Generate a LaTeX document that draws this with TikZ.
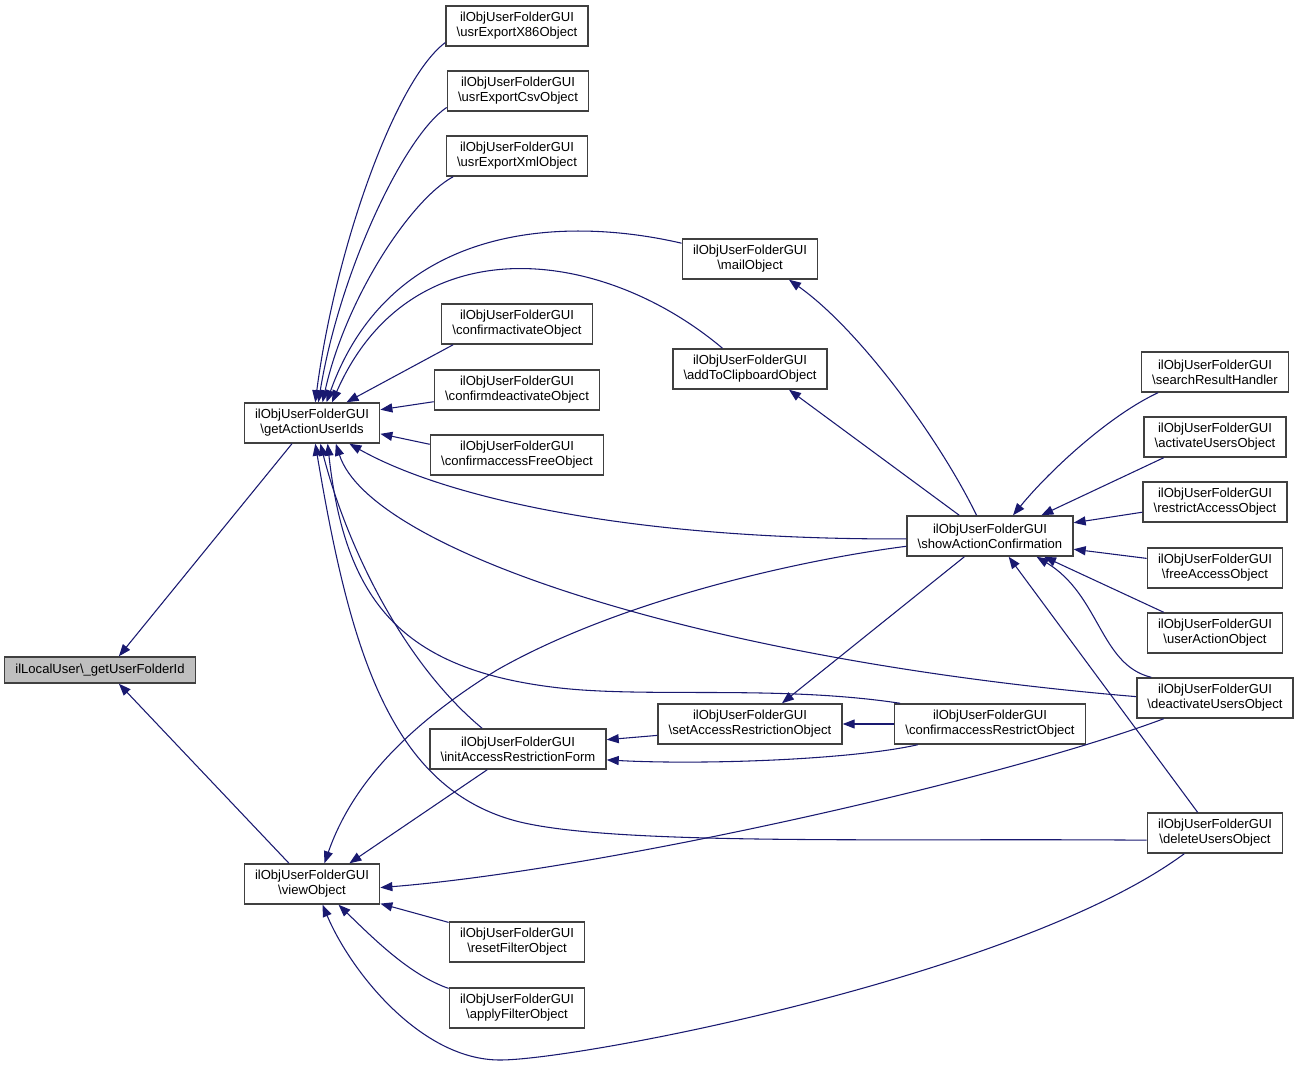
\documentclass[tikz,border=0pt]{standalone}
\usepackage{fontspec}
\setmainfont{Liberation Sans}
\usepackage{tikz}
\usetikzlibrary{arrows.meta}
\definecolor{edgeblue}{HTML}{191970}
\definecolor{boxgray}{HTML}{404040}
\definecolor{rootgray}{HTML}{BFBFBF}

\begin{document}
\begin{tikzpicture}[x=0.75pt,y=-0.75pt,
  fnbox/.style={draw=boxgray,line width=1.1pt,fill=white,align=center,inner xsep=8pt,inner ysep=2pt,minimum height=30pt,font=\fontsize{9.8}{11.25}\selectfont},
  rootbox/.style={fnbox,fill=rootgray,minimum height=19.5pt},
  calledge/.style={draw=edgeblue,line width=0.8pt,{Triangle[length=9pt,width=6.8pt]}-}]
\useasboundingbox (0,0) rectangle (1300,1067);
\node[rootbox] (root) at (100,670) {ilLocalUser\textbackslash\_getUserFolderId};
\node[fnbox] (getids) at (312,423) {ilObjUserFolderGUI\\\textbackslash getActionUserIds};
\node[fnbox] (view) at (312,884) {ilObjUserFolderGUI\\\textbackslash viewObject};
\node[fnbox] (x86) at (517,26) {ilObjUserFolderGUI\\\textbackslash usrExportX86Object};
\node[fnbox] (csv) at (518,91) {ilObjUserFolderGUI\\\textbackslash usrExportCsvObject};
\node[fnbox] (xml) at (517,156) {ilObjUserFolderGUI\\\textbackslash usrExportXmlObject};
\node[fnbox] (mail) at (750,259) {ilObjUserFolderGUI\\\textbackslash mailObject};
\node[fnbox] (clip) at (750,369) {ilObjUserFolderGUI\\\textbackslash addToClipboardObject};
\node[fnbox] (cact) at (517,324) {ilObjUserFolderGUI\\\textbackslash confirmactivateObject};
\node[fnbox] (cdeact) at (517,390) {ilObjUserFolderGUI\\\textbackslash confirmdeactivateObject};
\node[fnbox] (cfree) at (517,455) {ilObjUserFolderGUI\\\textbackslash confirmaccessFreeObject};
\node[fnbox] (show) at (990,536) {ilObjUserFolderGUI\\\textbackslash showActionConfirmation};
\node[fnbox] (setacc) at (750,724) {ilObjUserFolderGUI\\\textbackslash setAccessRestrictionObject};
\node[fnbox] (crestr) at (990,724) {ilObjUserFolderGUI\\\textbackslash confirmaccessRestrictObject};
\node[fnbox] (initacc) at (518,749) {ilObjUserFolderGUI\\\textbackslash initAccessRestrictionForm};
\node[fnbox] (search) at (1215,372) {ilObjUserFolderGUI\\\textbackslash searchResultHandler};
\node[fnbox] (activ) at (1215,437) {ilObjUserFolderGUI\\\textbackslash activateUsersObject};
\node[fnbox] (restr) at (1215,502) {ilObjUserFolderGUI\\\textbackslash restrictAccessObject};
\node[fnbox] (free) at (1215,568) {ilObjUserFolderGUI\\\textbackslash freeAccessObject};
\node[fnbox] (uact) at (1215,633) {ilObjUserFolderGUI\\\textbackslash userActionObject};
\node[fnbox] (deact) at (1215,698) {ilObjUserFolderGUI\\\textbackslash deactivateUsersObject};
\node[fnbox] (delete) at (1215,833) {ilObjUserFolderGUI\\\textbackslash deleteUsersObject};
\node[fnbox] (reset) at (517,942) {ilObjUserFolderGUI\\\textbackslash resetFilterObject};
\node[fnbox] (apply) at (517,1008) {ilObjUserFolderGUI\\\textbackslash applyFilterObject};
\draw[calledge] (root.36) -- (getids.-134);
\draw[calledge] (root.-36) -- (view.138);
\draw[calledge] (getids.81) .. controls (335,250) and (395,80) .. (x86.-167);
\draw[calledge] (getids.73) .. controls (340,270) and (405,135) .. (csv.-167);
\draw[calledge] (getids.63) .. controls (345,300) and (410,200) .. (xml.-162);
\draw[calledge] (getids.55) .. controls (390,225) and (560,215) .. (mail.167);
\draw[calledge] (getids.46) .. controls (410,225) and (600,245) .. (clip.143);
\draw[calledge] (getids.31) -- (cact.-162);
\draw[calledge] (getids.11) -- (cdeact.-172);
\draw[calledge] (getids.-9) -- (cfree.173);
\draw[calledge] (getids.-29) .. controls (440,495) and (620,540) .. (show.182);
\draw[calledge] (getids.-41) .. controls (370,550) and (700,660) .. (deact.179);
\draw[calledge] (getids.-53) .. controls (345,600) and (400,670) .. (560,688) .. controls (650,698) and (780,685) .. (crestr.167);
\draw[calledge] (getids.-68) .. controls (345,540) and (400,660) .. (initacc.150);
\draw[calledge] (getids.-81) .. controls (350,650) and (390,790) .. (520,822) .. controls (620,846) and (900,838) .. (delete.186);
\draw[calledge] (mail.-28) .. controls (860,330) and (940,440) .. (show.123);
\draw[calledge] (clip.-28) -- (show.146);
\draw[calledge] (show.42) .. controls (1050,470) and (1110,415) .. (search.-160);
\draw[calledge] (show.22) -- (activ.-158);
\draw[calledge] (show.9) -- (restr.188);
\draw[calledge] (show.-9) -- (free.172);
\draw[calledge] (show.-21) -- (uact.158);
\draw[calledge] (show.-24) .. controls (1100,595) and (1100,665) .. (deact.162);
\draw[calledge] (show.-48) -- (delete.130);
\draw[calledge] (setacc.33) -- (show.-141);
\draw[calledge] (setacc) -- (crestr);
\draw[calledge] (initacc.6) -- (setacc.187);
\draw[calledge] (initacc.-7) .. controls (700,765) and (850,760) .. (crestr.-164);
\draw[calledge] (view.59) .. controls (350,790) and (400,730) .. (497,670) .. controls (620,600) and (800,560) .. (show.187);
\draw[calledge] (view.29) -- (initacc.-146);
\draw[calledge] (view.-3) .. controls (600,870) and (1000,780) .. (deact.-158);
\draw[calledge] (view.-16) -- (reset.164);
\draw[calledge] (view.-38) .. controls (375,940) and (410,975) .. (apply.164);
\draw[calledge] (view.-63) .. controls (350,970) and (420,1060) .. (500,1060) .. controls (580,1060) and (1020,975) .. (delete.-146);
\end{tikzpicture}
\end{document}
